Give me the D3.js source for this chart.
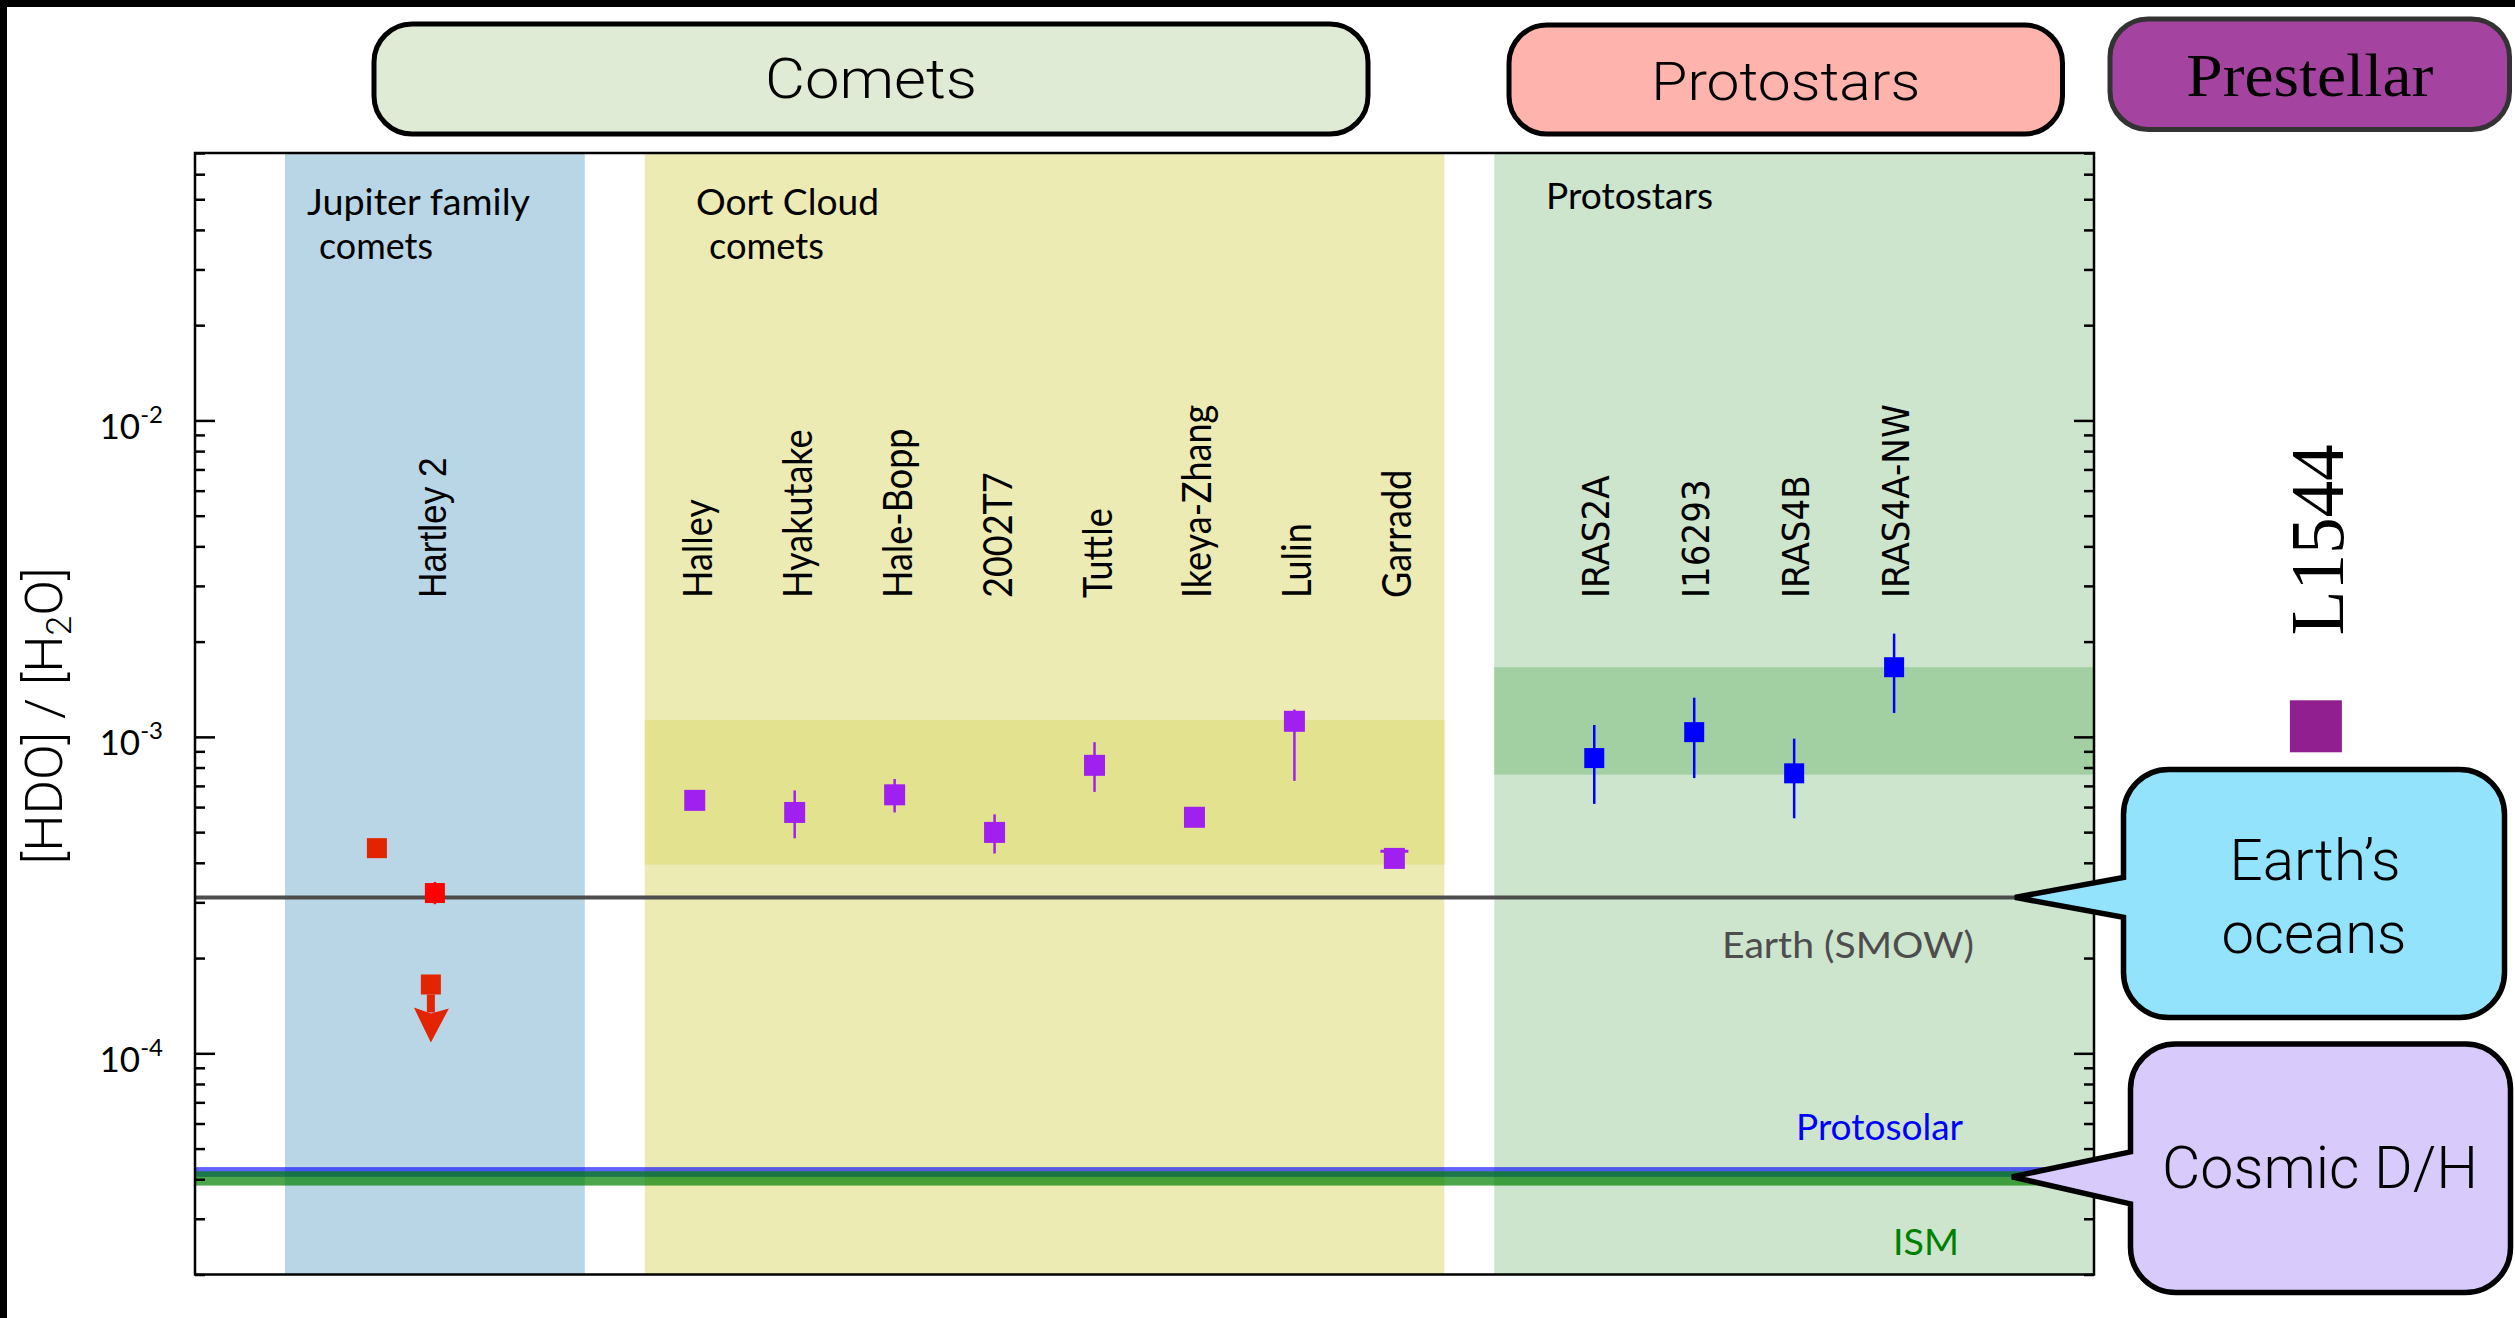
<!DOCTYPE html>
<html>
<head>
<meta charset="utf-8">
<script src="https://cdn.jsdelivr.net/npm/d3@7"></script>
<style>
  html, body { margin: 0; padding: 0; background: #fff; }
  svg { display: block; }
</style>
</head>
<body>
<div id="chart"></div>
<script>
// [HDO]/[H2O] values
var groupTitles = ["Comets", "Protostars", "Prestellar"];
var bandLabels = [["Jupiter family", "comets"], ["Oort Cloud", "comets"], ["Protostars"]];

var jfcLabel = "Hartley 2";
var jfcValues = [4.45e-4, 3.21e-4, 1.65e-4];
var jfcLow = [null, 2.96e-4, null];
var jfcHigh = [null, 3.48e-4, null];
var jfcUpperLimit = [false, false, true];

var oortNames = ["Halley", "Hyakutake", "Hale-Bopp", "2002T7", "Tuttle", "Ikeya-Zhang", "Lulin", "Garradd"];
var oortValues = [6.3e-4, 5.77e-4, 6.56e-4, 4.99e-4, 8.13e-4, 5.57e-4, 1.12e-3, 4.13e-4];
var oortLow = [null, 4.78e-4, 5.77e-4, 4.28e-4, 6.70e-4, null, 7.26e-4, null];
var oortHigh = [null, 6.77e-4, 7.36e-4, 5.69e-4, 9.62e-4, null, 1.22e-3, 4.35e-4];

var protoNames = ["IRAS2A", "I16293", "IRAS4B", "IRAS4A-NW"];
var protoValues = [8.57e-4, 1.035e-3, 7.67e-4, 1.66e-3];
var protoLow = [6.14e-4, 7.41e-4, 5.53e-4, 1.19e-3];
var protoHigh = [1.09e-3, 1.33e-3, 9.87e-4, 2.12e-3];

var prestellarName = "L1544";
var prestellarValue = 1.08e-3;

var oortRange = [3.95e-4, 1.13e-3];
var protoRange = [7.6e-4, 1.66e-3];
var earthSMOW = 3.11e-4;
var protosolarRange = [4.07e-5, 4.37e-5];
var ismRange = [3.82e-5, 4.24e-5];
var refLabels = ["Earth (SMOW)", "Protosolar", "ISM"];
var calloutLabels = [["Earth\u2019s", "oceans"], ["Cosmic D/H"]];

var yMajor = [1e-4, 1e-3, 1e-2];
var yDomain = [2e-5, 0.07];

// ---- layout ----
var W = 2515, H = 1318;
var plot = { left: 195, right: 2094, top: 153, bottom: 1274.5 };

var cmss = "Lato, 'DejaVu Sans', sans-serif";
var helv = "'Liberation Sans', Arial, sans-serif";
var light = "Roboto, 'Liberation Sans', sans-serif";
var dvs = "'DejaVu Sans', sans-serif";
var serif = "'Liberation Serif', 'DejaVu Serif', serif";

var svg = d3.select('#chart').append('svg')
    .attr('width', W)
    .attr('height', H);

svg.append('rect').attr('width', W).attr('height', H).attr('fill', '#fff');

var x = d3.scaleLinear().domain([0, 19]).range([plot.left, plot.right]);
var y = d3.scaleLog().domain(yDomain).range([plot.bottom, plot.top]);

function addText(parent, str, o) {
  var t = parent.append('text')
      .attr('font-family', o.font)
      .attr('font-size', o.size)
      .attr('fill', o.color || '#000')
      .attr('text-anchor', o.anchor || 'middle')
      .attr('transform', 'translate(' + o.x + ',' + o.y + ')' + (o.rotate ? ' rotate(-90)' : ''))
      .text(str);
  if (o.weight) t.attr('font-weight', o.weight);
  if (o.len) t.attr('textLength', o.len).attr('lengthAdjust', 'spacingAndGlyphs');
  return t;
}

var g = svg.append('g');

// column backgrounds
var columns = [
  { a: 0.9, b: 3.9, fill: '#b9d6e6' },
  { a: 4.5, b: 12.5, fill: '#ebebb3' },
  { a: 13, b: 19, fill: '#cde4cd' }
];
g.selectAll('rect.col')
  .data(columns)
  .enter()
  .append('rect')
  .attr('x', function (d) { return x(d.a); })
  .attr('width', function (d) { return x(d.b) - x(d.a); })
  .attr('y', plot.top)
  .attr('height', plot.bottom - plot.top)
  .attr('fill', function (d) { return d.fill; });

// mean ranges
g.append('rect')
  .attr('x', x(4.5)).attr('width', x(12.5) - x(4.5))
  .attr('y', y(oortRange[1])).attr('height', y(oortRange[0]) - y(oortRange[1]))
  .attr('fill', '#e3e38f');
g.append('rect')
  .attr('x', x(13)).attr('width', x(19) - x(13))
  .attr('y', y(protoRange[1])).attr('height', y(protoRange[0]) - y(protoRange[1]))
  .attr('fill', '#a3d0a3');

// protosolar and ISM strips
g.append('rect')
  .attr('x', plot.left).attr('width', plot.right - plot.left)
  .attr('y', y(protosolarRange[1])).attr('height', y(protosolarRange[0]) - y(protosolarRange[1]))
  .attr('fill', '#0000ff').attr('fill-opacity', 0.62);
g.append('rect')
  .attr('x', plot.left).attr('width', plot.right - plot.left)
  .attr('y', y(ismRange[1])).attr('height', y(ismRange[0]) - y(ismRange[1]))
  .attr('fill', '#008000').attr('fill-opacity', 0.7);

// Earth SMOW line
g.append('line')
  .attr('x1', plot.left).attr('x2', plot.right)
  .attr('y1', y(earthSMOW)).attr('y2', y(earthSMOW))
  .attr('stroke', '#4d4d4d').attr('stroke-width', 4);

// reference labels
addText(g, refLabels[0], { x: 1974, y: y(earthSMOW) + 61, size: 36, font: cmss, anchor: 'end', color: '#4d4d4d', len: 252 });
addText(g, refLabels[1], { x: 1963, y: y(protosolarRange[1]) - 27, size: 36, font: cmss, anchor: 'end', color: '#0000ff', len: 167 });
addText(g, refLabels[2], { x: 1959, y: y(ismRange[0]) + 69, size: 36, font: cmss, anchor: 'end', color: '#008000', len: 66 });

// band headers
var headerPos = [[{ x: 307, y: 215, len: 223 }, { x: 319, y: 259, len: 114 }],
                 [{ x: 696, y: 215, len: 183 }, { x: 709, y: 259, len: 115 }],
                 [{ x: 1546, y: 209, len: 167 }]];
bandLabels.forEach(function (lines, i) {
  lines.forEach(function (s, j) {
    var p = headerPos[i][j];
    addText(g, s, { x: p.x, y: p.y, size: 36, font: cmss, anchor: 'start', len: p.len });
  });
});

// rotated object names
var labelBottom = 598;
var squeeze = 0.9;
function rotLabel(str, cx, off, size, font) {
  var t = addText(g, str, { x: cx + off, y: labelBottom, size: size, font: font, anchor: 'start', rotate: true });
  t.attr('textLength', t.node().getComputedTextLength() * squeeze).attr('lengthAdjust', 'spacingAndGlyphs');
}
rotLabel(jfcLabel, x(2.4), 11, 39, helv);
oortNames.forEach(function (s, i) { rotLabel(s, x(5 + i), 17, 40, cmss); });
protoNames.forEach(function (s, i) { rotLabel(s, x(14 + i), 15, 38, dvs); });

// error bars and markers
function errbar(cx, lo, hi, color, cap) {
  g.append('line')
    .attr('x1', cx).attr('x2', cx)
    .attr('y1', y(hi)).attr('y2', y(lo))
    .attr('stroke', color).attr('stroke-width', 2.5);
  if (cap) {
    g.append('line')
      .attr('x1', cx - cap / 2).attr('x2', cx + cap / 2)
      .attr('y1', y(hi)).attr('y2', y(hi))
      .attr('stroke', color).attr('stroke-width', 3);
  }
}
function square(cx, v, size, color) {
  g.append('rect')
    .attr('x', cx - size / 2).attr('y', y(v) - size / 2)
    .attr('width', size).attr('height', size)
    .attr('fill', color);
}

// Jupiter family
var jfcX = [1.82, 2.4, 2.36];
var jfcColors = ['#e32400', '#ff0000', '#e32400'];
jfcValues.forEach(function (v, i) {
  var cx = x(jfcX[i]);
  if (jfcLow[i] != null) errbar(cx, jfcLow[i], jfcHigh[i], jfcColors[i]);
  square(cx, v, 20, jfcColors[i]);
  if (jfcUpperLimit[i]) {
    var cy = y(v);
    g.append('rect').attr('x', cx - 4).attr('y', cy + 10).attr('width', 8).attr('height', 18).attr('fill', jfcColors[i]);
    g.append('path')
      .attr('d', 'M' + (cx - 17) + ',' + (cy + 23) + 'L' + cx + ',' + (cy + 29) + 'L' + (cx + 18) + ',' + (cy + 24) + 'L' + cx + ',' + (cy + 58) + 'Z')
      .attr('fill', jfcColors[i]);
  }
});

// Oort cloud
oortValues.forEach(function (v, i) {
  var cx = x(5 + i);
  if (oortHigh[i] != null) errbar(cx, oortLow[i] || v, oortHigh[i], '#a020f0', oortLow[i] == null ? 28 : 0);
  square(cx, v, 21, '#a020f0');
});

// protostars
protoValues.forEach(function (v, i) {
  var cx = x(14 + i);
  errbar(cx, protoLow[i], protoHigh[i], '#0000ff');
  square(cx, v, 20, '#0000ff');
});

// prestellar core outside the frame
var lx = x(21.22);
square(lx, prestellarValue, 52, '#921f8f');
addText(svg, prestellarName, { x: lx + 27, y: y(prestellarValue) - 91, size: 76, font: serif, anchor: 'start', rotate: true, len: 191 });

// axes
var minor = [];
for (var k = -5; k <= -2; k++) {
  for (var m = 2; m <= 9; m++) {
    var v = m * Math.pow(10, k);
    if (v >= yDomain[0] && v <= yDomain[1]) minor.push(v);
  }
}
function styleAxis(sel) {
  sel.select('.domain').remove();
  sel.selectAll('line').attr('stroke', '#000').attr('stroke-width', 2.5);
}
svg.append('g').attr('transform', 'translate(' + plot.left + ',0)')
  .call(d3.axisLeft(y).tickValues(minor).tickSize(-10).tickFormat(''))
  .call(styleAxis);
var leftMajor = svg.append('g').attr('transform', 'translate(' + plot.left + ',0)')
  .call(d3.axisLeft(y).tickValues(yMajor).tickSize(-20).tickPadding(32).tickFormat(''))
  .call(styleAxis);
svg.append('g').attr('transform', 'translate(' + plot.right + ',0)')
  .call(d3.axisRight(y).tickValues(minor).tickSize(-10).tickFormat(''))
  .call(styleAxis);
svg.append('g').attr('transform', 'translate(' + plot.right + ',0)')
  .call(d3.axisRight(y).tickValues(yMajor).tickSize(-20).tickFormat(''))
  .call(styleAxis);

leftMajor.selectAll('.tick text')
  .attr('font-family', cmss)
  .attr('fill', '#000')
  .attr('text-anchor', 'end')
  .attr('dy', null)
  .attr('y', 18)
  .each(function (d) {
    var t = d3.select(this);
    t.append('tspan').attr('font-size', 35).text('10');
    t.append('tspan').attr('font-size', 24).attr('dy', -16).text(String(Math.round(Math.log10(d))));
  });

svg.append('rect')
  .attr('x', plot.left).attr('y', plot.top)
  .attr('width', plot.right - plot.left).attr('height', plot.bottom - plot.top)
  .attr('fill', 'none').attr('stroke', '#000').attr('stroke-width', 2.5);

// y label
var yl = svg.append('text')
  .attr('font-family', light)
  .attr('font-weight', 300)
  .attr('font-size', 52)
  .attr('text-anchor', 'middle')
  .attr('transform', 'translate(62,716) rotate(-90)')
  .attr('textLength', 297).attr('lengthAdjust', 'spacingAndGlyphs');
yl.append('tspan').text('[HDO] / [H');
yl.append('tspan').attr('font-size', 35).attr('dy', 9).text('2');
yl.append('tspan').attr('dy', -9).text('O]');

// header boxes
var boxes = [
  { x0: 374, x1: 1368, y0: 24, y1: 134, fill: '#e0ebd6', stroke: '#000', font: light, size: 56, ty: 98, len: 212 },
  { x0: 1509, x1: 2062.5, y0: 25, y1: 134, fill: '#feb3ad', stroke: '#000', font: light, size: 53, ty: 100, len: 269 },
  { x0: 2110, x1: 2509.5, y0: 19, y1: 129.5, fill: '#a544a0', stroke: '#333', font: serif, size: 62, ty: 96, len: 247 }
];
boxes.forEach(function (b, i) {
  svg.append('rect')
    .attr('x', b.x0).attr('y', b.y0)
    .attr('width', b.x1 - b.x0).attr('height', b.y1 - b.y0)
    .attr('rx', 38).attr('ry', 38)
    .attr('fill', b.fill).attr('stroke', b.stroke).attr('stroke-width', 5);
  addText(svg, groupTitles[i], { x: (b.x0 + b.x1) / 2, y: b.ty, size: b.size, font: b.font, len: b.len, weight: b.font === light ? 300 : null });
});

// callouts
function callout(b) {
  var r = b.r;
  var d = 'M' + (b.x0 + r) + ',' + b.y0 +
    'H' + (b.x1 - r) + 'A' + r + ',' + r + ' 0 0 1 ' + b.x1 + ',' + (b.y0 + r) +
    'V' + (b.y1 - r) + 'A' + r + ',' + r + ' 0 0 1 ' + (b.x1 - r) + ',' + b.y1 +
    'H' + (b.x0 + r) + 'A' + r + ',' + r + ' 0 0 1 ' + b.x0 + ',' + (b.y1 - r) +
    'V' + b.pLow + 'L' + b.tipX + ',' + b.tipY + 'L' + b.x0 + ',' + b.pHigh +
    'V' + (b.y0 + r) + 'A' + r + ',' + r + ' 0 0 1 ' + (b.x0 + r) + ',' + b.y0 + 'Z';
  svg.append('path').attr('d', d)
    .attr('fill', b.fill).attr('stroke', '#000').attr('stroke-width', 5.5)
    .attr('stroke-linejoin', 'miter');
}
var earthY = y(earthSMOW);
callout({ x0: 2123.5, x1: 2504.5, y0: 769.5, y1: 1017.5, r: 45, tipX: 2015, tipY: earthY, pHigh: earthY - 20, pLow: earthY + 20, fill: '#93e3fc' });
addText(svg, calloutLabels[0][0], { x: 2315, y: 880, size: 58, font: light, weight: 300, len: 171 });
addText(svg, calloutLabels[0][1], { x: 2314, y: 953, size: 58, font: light, weight: 300, len: 185 });

var cosY = y(protosolarRange[0]);
callout({ x0: 2130.5, x1: 2510.5, y0: 1044, y1: 1292.5, r: 45, tipX: 2012, tipY: cosY, pHigh: cosY - 25, pLow: cosY + 27, fill: '#d8cbfb' });
addText(svg, calloutLabels[1][0], { x: 2320, y: 1188, size: 59, font: light, weight: 300, len: 316 });

// black frame edges of the original picture
svg.append('rect').attr('x', 0).attr('y', 0).attr('width', W).attr('height', 7).attr('fill', '#000');
svg.append('rect').attr('x', 0).attr('y', 0).attr('width', 7).attr('height', H).attr('fill', '#000');
</script>
</body>
</html>
